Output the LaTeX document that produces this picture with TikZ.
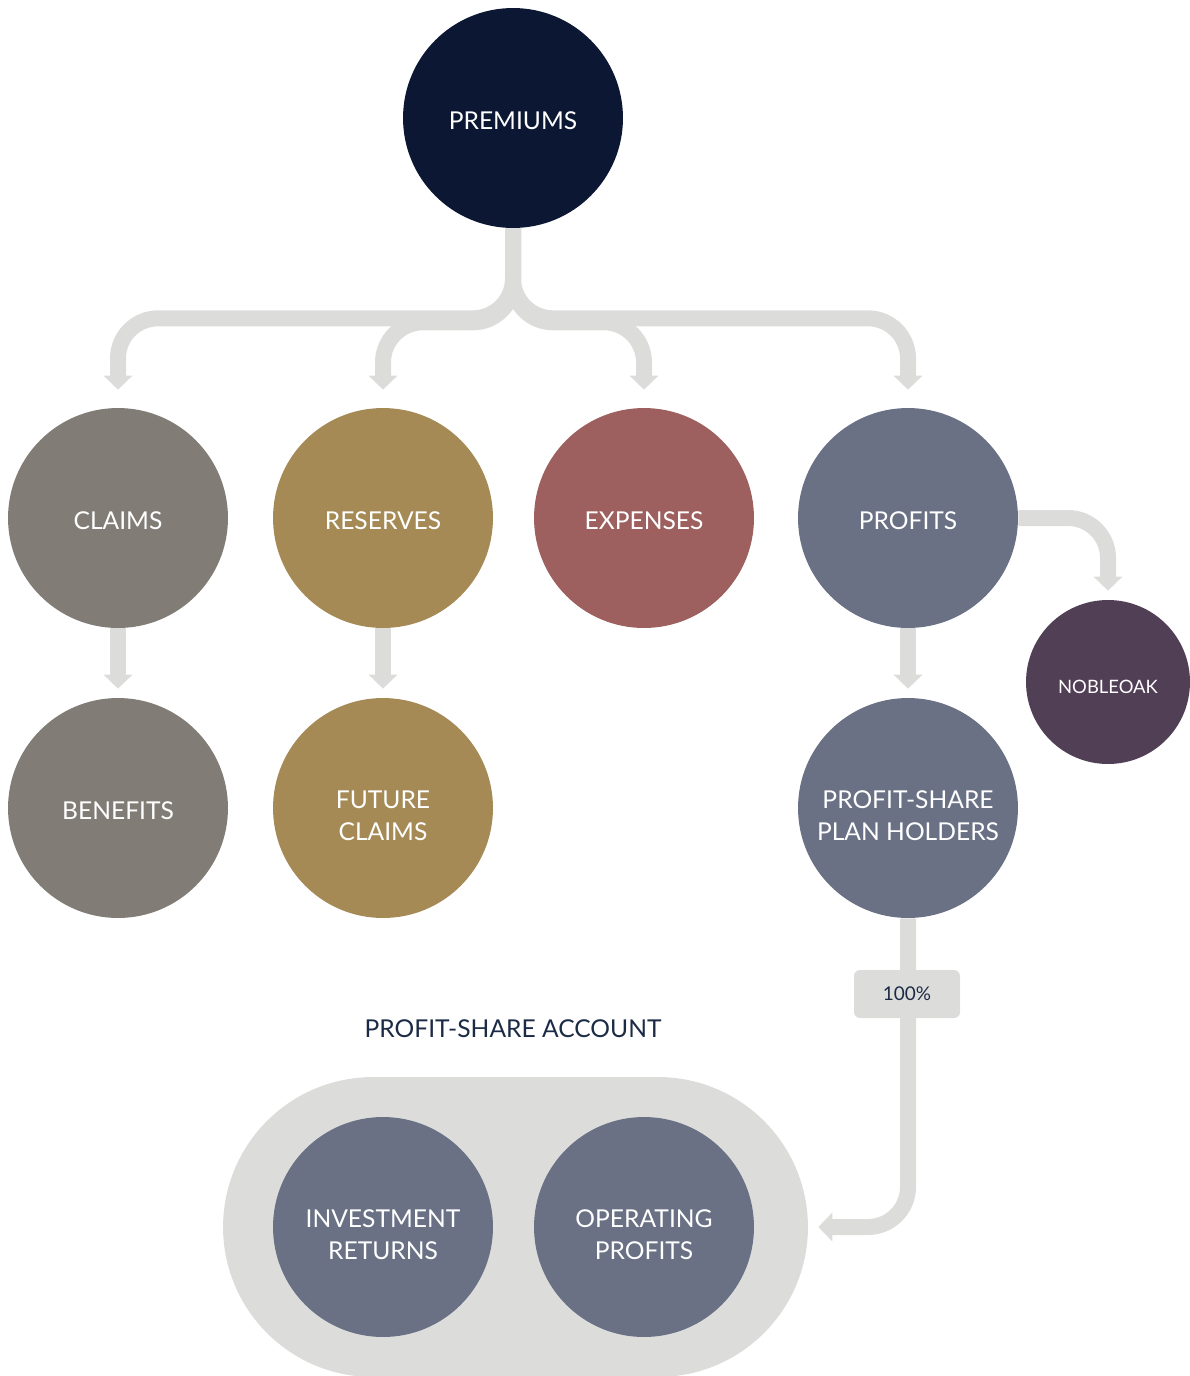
\documentclass[tikz,border=0pt]{standalone}
\usepackage{fontspec}
\setmainfont{Lato}
\usetikzlibrary{arrows.meta}
\definecolor{navy}{HTML}{0B1733}
\definecolor{inknavy}{HTML}{1C2B45}
\definecolor{taupe}{HTML}{817D76}
\definecolor{gold}{HTML}{A58A56}
\definecolor{rose}{HTML}{9E5F5F}
\definecolor{slate}{HTML}{6A7185}
\definecolor{plum}{HTML}{513F55}
\definecolor{flowgray}{HTML}{DCDDDB}
\tikzset{
    bubble/.style = {circle, fill=#1, minimum size=4.4cm, inner sep=0pt,
        text=white, align=center, font=\fontsize{14}{18.7}\selectfont,
        execute at begin node={\rule{0pt}{13.4pt}}},
    twoline/.style = {execute at begin node={\rule{0pt}{37.6pt}}},
    flow/.style = {draw=flowgray, line width=0.32cm, rounded corners=0.8cm,
        -{Triangle[width=0.56cm,length=0.28cm]}}
}

\begin{document}
\begin{tikzpicture}[x=0.02cm,y=-0.02cm]
    \useasboundingbox (0,0) rectangle (1190,1376);

    % account background
    \node (account) [fill=flowgray, rounded corners=3cm, minimum width=11.7cm,
        minimum height=6cm, inner sep=0pt] at (515.5,1227) {};
    \node (acctitle) [text=inknavy, font=\fontsize{14}{16}\selectfont] at (513,1029) {PROFIT-SHARE ACCOUNT};

    % bubbles
    \node (premiums) [bubble=navy] at (513,118) {PREMIUMS};
    \node (claims) [bubble=taupe] at (118,518) {CLAIMS};
    \node (reserves) [bubble=gold] at (383,518) {RESERVES};
    \node (expenses) [bubble=rose] at (644,518) {EXPENSES};
    \node (profits) [bubble=slate] at (908,518) {PROFITS};
    \node (benefits) [bubble=taupe] at (118,808) {BENEFITS};
    \node (future) [bubble=gold, twoline] at (383,808) {FUTURE\\CLAIMS};
    \node (holders) [bubble=slate, twoline] at (908,808) {PROFIT-SHARE\\PLAN HOLDERS};
    \node (nobleoak) [bubble=plum, minimum size=3.28cm, font=\fontsize{10.5}{13}\selectfont,
        execute at begin node={\rule{0pt}{12.6pt}}] at (1108,682) {NOBLEOAK};
    \node (investment) [bubble=slate, twoline] at (383,1227) {INVESTMENT\\RETURNS};
    \node (operating) [bubble=slate, twoline] at (644,1227) {OPERATING\\PROFITS};

    % split of premiums
    \draw[flow, shorten >=0.36cm] (premiums.south) -- ++(0,90) -| (claims.north);
    \draw[flow, shorten >=0.36cm] (premiums.south) -- ++(0,90) -| (profits.north);
    \draw[flow, shorten >=0.36cm] (premiums.south) -- ++(0,94) -| (reserves.north);
    \draw[flow, shorten >=0.36cm] (premiums.south) -- ++(0,94) -| (expenses.north);

    % downstream flows
    \draw[flow, shorten >=0.18cm] (claims.south) -- (benefits.north);
    \draw[flow, shorten >=0.18cm] (reserves.south) -- (future.north);
    \draw[flow, shorten >=0.18cm] (profits.south) -- (holders.north);
    \draw[flow, shorten >=0.18cm] (profits.east) -| (nobleoak.north);
    \draw[flow, shorten >=0.2cm] (holders.south) |- (account.east);

    \node (share) [fill=flowgray, rounded corners=0.12cm, minimum width=2.12cm,
        minimum height=0.96cm, text=inknavy, font=\fontsize{10.8}{13}\selectfont] at (907,994) {100\%};
\end{tikzpicture}
\end{document}
